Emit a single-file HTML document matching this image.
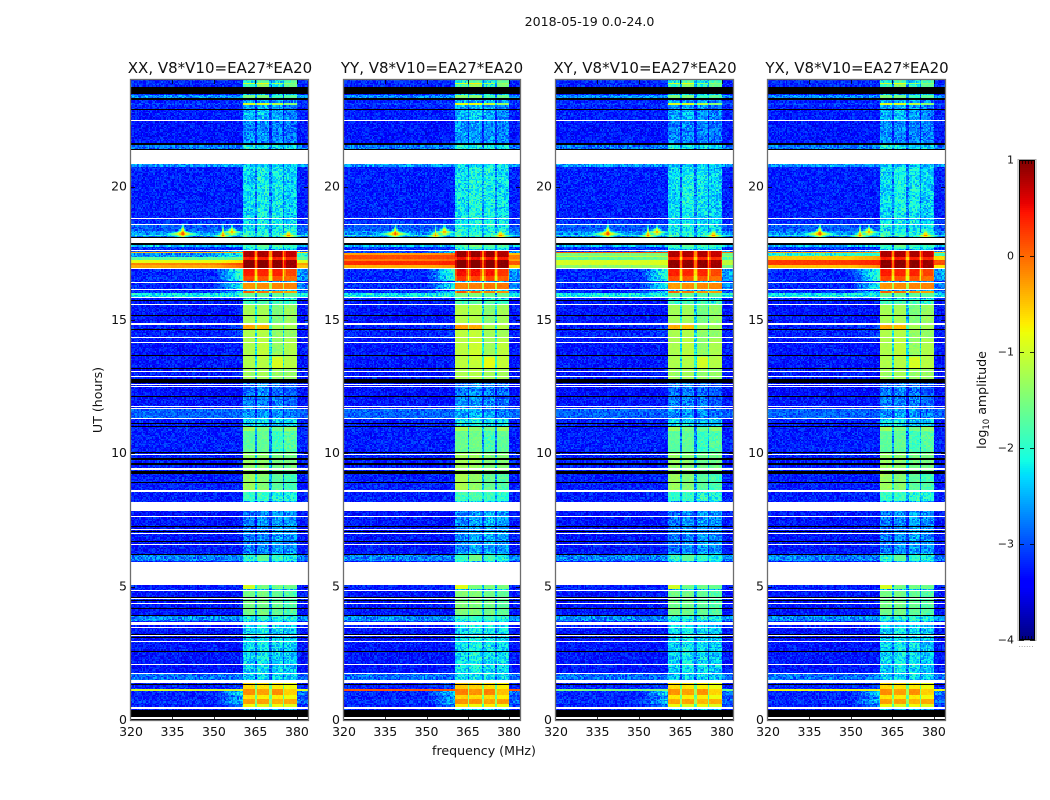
<!DOCTYPE html>
<html lang="en">
<head>
<meta charset="utf-8">
<title>2018-05-19 spectrogram</title>
<style>
html,body{margin:0;padding:0;background:#fff;width:1050px;height:800px;overflow:hidden}
svg{display:block}
text{font-family:"DejaVu Sans","Liberation Sans",sans-serif;fill:#111}
.tick{font-size:12.5px}
.title{font-size:15px}
</style>
</head>
<body>
<svg id="figure" width="1050" height="800" viewBox="0 0 1050 800" xmlns="http://www.w3.org/2000/svg">
  <text x="589.5" y="26" text-anchor="middle" font-size="12.6">2018-05-19 0.0-24.0</text>
  <text class="title" x="220" y="73" text-anchor="middle">XX, V8*V10=EA27*EA20</text>
  <text class="title" x="432" y="73" text-anchor="middle">YY, V8*V10=EA27*EA20</text>
  <text class="title" x="645" y="73" text-anchor="middle">XY, V8*V10=EA27*EA20</text>
  <text class="title" x="857" y="73" text-anchor="middle">YX, V8*V10=EA27*EA20</text>
  <text font-size="12.6" text-anchor="middle" transform="translate(102,400) rotate(-90)">UT (hours)</text>
  <text font-size="12.6" x="484" y="755" text-anchor="middle">frequency (MHz)</text>
  <text font-size="12.6" text-anchor="middle" transform="translate(986,400) rotate(-90)">log<tspan font-size="8.5" dy="3">10</tspan><tspan dy="-3"> amplitude</tspan></text>
  <text font-size="8" x="1026" y="647" text-anchor="middle" style="fill:#999">......</text>
  <g id="panels"></g>
  <g id="colorbar"></g>
</svg>
<script>
// ---------- chart data (UT hours, MHz, log10 amplitude) ----------
const panelNames = ['xx','yy','xy','yx'];
const freqTicks = [320,335,350,365,380];
const utTicks = [0,5,10,15,20];
const colorbarTicks = [1,0,-1,-2,-3,-4];
const colorbarLabels = ['1','0','\u22121','\u22122','\u22123','\u22124'];

// [utTop, utBottom, background, shoulder, blockA, blockB, blockC, blockD]
const commonBands = [
[24.00,23.92,-3.2,-3.2,-2.2,-1.8,-2.3,-1.8],
[23.92,23.84,-3.2,-3.2,-1.0,-0.8,-1.3,-1.4],
[23.84,23.73,-3.2,-3.2,-1.9,-1.4,-2.1,-1.6],
[23.47,23.31,-2.7,-2.7,-1.5,-1.5,-1.9,-1.7],
[23.25,22.88,-3.25,-3.25,-2.6,-2.55,-2.6,-2.75],
[23.13,23.07,-3.1,-3.1,-0.9,-0.9,-1.1,-1.4],
[22.88,22.50,-3.25,-3.25,-2.55,-2.45,-2.6,-2.75],
[22.50,21.62,-3.3,-3.3,-2.7,-2.7,-2.75,-2.8],
[21.56,21.38,-2.8,-2.8,-2.1,-2.2,-2.3,-2.3],
[20.85,20.74,-2.65,-2.65,-2.4,-2.4,-2.4,-2.4],
[20.74,18.81,-3.25,-3.25,-2.3,-2.15,-2.2,-2.35],
[18.77,18.60,-3.15,-3.15,-2.3,-2.15,-2.2,-2.35],
[18.56,18.34,-2.95,-2.95,-2.2,-2.2,-2.2,-2.25],
[18.34,18.22,-2.7,-2.7,-2.1,-2.1,-2.1,-2.15],
[18.22,18.14,-2.15,-2.15,-1.85,-1.85,-1.85,-1.9],
[18.14,18.06,-2.9,-2.9,-2.3,-2.3,-2.3,-2.3],
[17.83,17.76,-2.45,-2.45,-1.9,-1.6,-1.8,-1.9],
[17.76,17.64,-3.15,-3.15,-2.1,-1.9,-2.0,-2.2],
[17.61,17.33,-3.05,-2.3,0.82,0.82,0.82,0.72],
[17.33,17.25,-3.05,-2.1,0.4,0.4,0.4,0.35],
[17.25,16.95,-3.05,-1.9,0.95,0.95,0.95,0.88],
[16.91,16.66,-3.2,-1.9,0.42,0.38,0.38,0.2],
[16.66,16.43,-3.2,-1.9,0.2,0.12,0.12,-0.02],
[16.39,16.15,-3.2,-2.1,-0.25,-0.2,-0.15,-0.15],
[16.11,15.98,-3.15,-2.3,0.05,-0.05,-0.2,-0.3],
[15.98,15.86,-2.2,-2.2,-1.6,-1.6,-1.7,-1.7],
[15.81,15.55,-3.3,-3.3,-1.9,-1.8,-1.9,-2.0],
[15.55,14.87,-3.3,-3.3,-1.25,-1.25,-1.5,-1.35],
[14.83,14.63,-3.25,-3.05,-0.35,-0.45,-1.25,-1.25],
[14.63,14.31,-3.25,-3.05,-1.2,-1.15,-1.35,-1.35],
[14.31,13.62,-3.3,-3.3,-1.2,-1.1,-1.35,-1.2],
[13.62,13.20,-3.3,-3.3,-1.2,-1.15,-0.95,-1.15],
[13.20,12.77,-3.3,-3.3,-1.3,-1.25,-1.35,-1.35],
[12.65,12.15,-3.35,-3.35,-2.85,-2.75,-2.85,-2.95],
[12.11,11.66,-3.3,-3.3,-2.8,-2.75,-2.75,-2.9],
[11.66,11.29,-2.9,-2.9,-2.65,-2.6,-2.65,-2.8],
[11.29,11.0,-3.25,-3.25,-2.3,-2.3,-2.4,-2.4],
[11.0,10.85,-3.25,-3.25,-1.3,-1.5,-1.6,-1.4],
[10.85,10.05,-3.25,-3.25,-1.7,-1.65,-1.9,-1.75],
[10.05,9.23,-3.25,-3.25,-1.35,-1.4,-1.55,-1.55],
[9.23,8.59,-3.25,-3.25,-1.3,-1.45,-1.7,-1.85],
[8.56,8.19,-3.25,-3.25,-1.95,-1.9,-2.0,-2.05],
[7.84,6.23,-3.3,-3.3,-2.8,-2.7,-2.6,-2.7],
[6.18,5.94,-2.75,-2.75,-2.0,-1.65,-1.95,-2.15],
[5.06,4.88,-3.25,-3.25,-0.95,-1.55,-1.55,-1.6],
[4.84,3.90,-3.3,-3.3,-1.55,-1.55,-1.65,-1.75],
[3.90,3.69,-2.7,-2.7,-2.1,-2.05,-2.05,-2.15],
[3.56,1.77,-3.3,-3.3,-2.35,-2.2,-2.3,-2.4],
[1.74,1.50,-2.85,-2.85,-2.4,-2.3,-2.3,-2.4],
[1.38,1.13,-3.25,-3.05,-0.6,-0.65,-0.7,-0.8],
[1.13,0.95,-3.2,-2.3,-0.2,-0.3,-0.2,-0.55],
[0.95,0.80,-3.25,-2.6,-0.65,-0.7,-0.7,-0.8],
[0.80,0.62,-3.15,-2.4,-0.3,-0.3,-0.4,-0.35],
[0.62,0.43,-3.25,-2.8,-0.8,-0.9,-0.8,-0.9]
];

// [utTop, utBottom, background, shoulder, rightEdge] replacing the out-of-band levels per panel
const stripsXX = [
[17.55,17.48,-0.4,-0.4,-0.6],[17.48,17.33,-2.7,-2.2,-2.0],[17.33,17.25,-1.7,-1.6,-1.7],
[17.25,17.17,-0.85,-0.6,-0.9],[17.17,17.05,-0.15,0.2,-0.3],[17.05,16.95,-0.35,0.0,-0.5],
[1.14,1.09,-0.95,-0.95,-0.95]
];
const stripsYY = [
[17.51,17.44,-0.3,-0.1,-0.5],[17.44,17.29,0.15,0.2,-0.1],[17.29,17.21,-0.1,0.0,-0.3],
[17.21,17.03,0.32,0.4,0.1],[17.03,16.95,-0.4,-0.2,-0.6],
[1.14,1.09,0.1,0.1,0.1]
];
const stripsXY = [
[17.55,17.50,0.1,0.1,-0.1],[17.50,17.40,-1.5,-1.5,-1.6],[17.40,17.33,-1.1,-1.1,-1.3],
[17.33,17.25,-1.7,-1.6,-1.8],[17.25,17.06,-0.95,-0.9,-1.1],[17.06,16.95,-1.4,-1.2,-1.5],
[1.14,1.09,-1.5,-1.5,-1.6]
];
const stripsYX = [
[17.55,17.48,-0.3,-0.3,-0.5],[17.48,17.40,-2.0,-1.9,-1.9],[17.40,17.25,-0.5,-0.3,-0.6],
[17.25,17.03,0.25,0.4,0.15],[17.03,16.95,-0.5,-0.2,-0.7],
[1.14,1.09,-0.8,-0.8,-0.8]
];
const panelStrips = [stripsXX,stripsYY,stripsXY,stripsYX];
// in-band brightness difference of each polarisation
const panelBandShift = [0,0.08,-0.02,0.0];

// narrow interference spikes near 18 UT
const spurFreqs = [338.6,356.5,353.3,377.0,361.5,368.5];
const spurTimes = [18.24,18.30,18.17,18.17,18.16,18.16];
const spurPeaks = [0.6,0.3,0.1,0.3,-0.9,-1.1];

// flagged integrations: [utTop, utBottom]
const whiteRows = [
[22.5,22.46],[21.375,20.85],[18.81,18.77],[18.6,18.56],[18.06,17.87],[17.64,17.61],[16.95,16.91],
[16.425,16.39],[16.15,16.11],[15.86,15.81],[15.59,15.55],[14.87,14.83],[14.37,14.31],[14.19,14.16],
[13.09,13.05],[12.9,12.85],[12.6,12.56],[12.54,12.51],[11.775,11.74],[11.7,11.66],[11.325,11.29],
[9.99,9.95],[9.45,9.375],[8.61,8.56],[8.19,7.84],[7.65,7.6],[7.16,7.125],[7.03,7.0],[6.6,6.56],
[5.94,5.06],[4.875,4.84],[4.575,4.54],[4.39,4.35],[3.69,3.56],[3.47,3.44],[3.19,3.15],[2.96,2.925],
[2.1,2.06],[1.77,1.74],[1.5,1.375],[0.47,0.43],[0.13,0.09],[0.065,0.035]
];
const blackRows = [
[23.73,23.47],[23.31,23.25],[22.91,22.875],[21.62,21.56],[21.41,21.375],[18.11,18.06],[17.87,17.83],
[15.75,15.71],[15.19,15.15],[14.66,14.625],[13.69,13.65],[13.2,13.16],[12.77,12.65],[12.15,12.11],
[11.14,11.1],[11.04,11.0],[10.05,10.01],[9.81,9.75],[9.65,9.56],[9.35,9.225],[8.925,8.89],[7.275,7.24],
[7.09,7.05],[6.73,6.69],[6.225,6.18],[4.61,4.575],[4.5,4.46],[4.2,4.16],[3.94,3.9],[3.24,3.21],
[3.11,3.08],[2.59,2.55],[1.35,1.31],[0.39,0.13],[0.09,0.065],[0.035,0]
];

// fine cell-to-cell scatter
const speckle = [
0.31,-0.62,0.08,0.77,-0.24,-0.91,0.45,0.12,-0.38,0.66,-0.07,-0.54,0.93,0.21,-0.73,0.02,0.38,-0.16,-0.84,0.59,
0.15,-0.33,0.71,-0.49,0.27,-0.05,-0.68,0.52,0.86,-0.21,-0.97,0.34,0.04,-0.42,0.63,-0.12,0.19,-0.77,0.48,1.0,
-0.29,-0.58,0.11,0.74,-0.36,0.25,-0.88,0.56,-0.02,0.41,-0.65,0.17,0.82,-0.19,-0.45,0.36,-0.8,0.06,0.69,-0.31,
0.22,-0.55,0.5,-0.1,0.9,-0.71,0.29,-0.26,-0.94,0.61,0.09,-0.4,0.78,-0.14,0.33,-0.6,0.44,-0.03,-0.83,0.55,
0.18,-0.5,0.84,-0.23,0.01,-0.75,0.39,0.67,-0.34,-0.09,0.47,-0.99,0.26,0.72,-0.44,0.14,-0.17
];

// ---------- geometry and scales ----------
const NS = 'http://www.w3.org/2000/svg';
const panelLeft = [131,344,556,768];
const panelRight = [308,520,733,945];
const plotTop = 80, plotBottom = 720;
const freqMin = 320, freqMax = 384, utMin = 0, utMax = 24;
const blockEdges = [[360.4,365.1],[365.7,370.2],[370.9,374.9],[375.6,379.9]];
const yScale = t => plotBottom - (t - utMin) / (utMax - utMin) * (plotBottom - plotTop);
const xScaleFor = p => f => panelLeft[p] + (f - freqMin) / (freqMax - freqMin) * (panelRight[p] - panelLeft[p]);

function jet(v) {
  const stopsR = [[0,0],[0.35,0],[0.66,1],[0.89,1],[1,0.5]];
  const stopsG = [[0,0],[0.125,0],[0.375,1],[0.64,1],[0.91,0],[1,0]];
  const stopsB = [[0,0.5],[0.11,1],[0.34,1],[0.65,0],[1,0]];
  const ev = s => { for (let i = 1; i < s.length; i++) if (v <= s[i][0]) return s[i-1][1] + (s[i][1]-s[i-1][1])*(v-s[i-1][0])/(s[i][0]-s[i-1][0]); return s[s.length-1][1]; };
  return 'rgb(' + Math.round(255*ev(stopsR)) + ',' + Math.round(255*ev(stopsG)) + ',' + Math.round(255*ev(stopsB)) + ')';
}
const LEVELS = 96;
const levelIndex = L => Math.max(0, Math.min(LEVELS - 1, Math.floor((L + 4) / 5 * LEVELS)));

function bandAt(p, t) {
  let found = null;
  for (const b of commonBands) if (t <= b[0] && t > b[1]) found = b;
  if (!found) found = [0,0,-3.25,-3.25,-2.5,-2.5,-2.5,-2.5];
  const r = {bg: found[2], sh: found[3], blocks: found.slice(4,8).map(v => v + panelBandShift[p]), right: null};
  for (const s of panelStrips[p]) if (t <= s[0] && t > s[1]) { r.bg = s[2]; r.sh = s[3]; r.right = s[4]; }
  if (r.right === null) r.right = r.sh > r.bg ? (r.sh + r.bg) / 2 - 0.1 : r.bg;
  return r;
}
function levelAt(r, f) {
  for (let k = 0; k < 4; k++) {
    if (f >= blockEdges[k][0] && f < blockEdges[k][1]) {
      const edge = Math.min(f - blockEdges[k][0], blockEdges[k][1] - f);
      return r.blocks[k] - (r.blocks[k] > 0.0 && edge < 0.55 ? 0.35 : 0);
    }
  }
  for (let k = 0; k < 3; k++) {
    if (f >= blockEdges[k][1] && f < blockEdges[k+1][0]) {
      const avg = (r.blocks[k] + r.blocks[k+1]) / 2;
      return avg < -1.8 ? avg - 0.55 : avg - 1.0;
    }
  }
  if (f >= blockEdges[3][1]) return r.right;
  if (f >= 350) return r.bg + (r.sh - r.bg) * (f - 350) / 10.4;
  return r.bg;
}
function spurLevel(f, t, L) {
  for (let k = 0; k < spurFreqs.length; k++) {
    const h = t - spurTimes[k];
    if (h > 0.5 || h < -0.15) continue;
    const df = Math.pow(Math.abs(f - spurFreqs[k]), 0.6);
    const v = h >= 0 ? spurPeaks[k] - df * (1 + 10 * h) - 5 * h : spurPeaks[k] - df - 12 * (-h);
    if (v > L) L = v;
  }
  return L;
}
function scatterAmp(L) { return L > -1.3 ? 0.05 : (L > -1.75 ? 0.14 : (L > -2.0 ? 0.26 : (L > -2.9 ? 0.44 : 0.33))); }
function cellHash(i, j, p) {
  let h = Math.imul(i + 1, 73856093) ^ Math.imul(j + 1, 19349663) ^ Math.imul(p + 1, 83492791);
  h ^= h >>> 13;
  h = Math.imul(h, 1274126177);
  h ^= h >>> 16;
  return (h >>> 0) % speckle.length;
}

// ---------- draw ----------
const panelsGroup = document.getElementById('panels');
const nCols = 128, nRows = 480;
panelNames.forEach((name, p) => {
  const xScale = xScaleFor(p);
  const g = document.createElementNS(NS, 'g');
  
  
  panelsGroup.appendChild(g);

  const buckets = Array.from({length: LEVELS}, () => []);
  const dF = (freqMax - freqMin) / nCols, dT = (utMax - utMin) / nRows;
  for (let i = 0; i < nRows; i++) {
    const tTop = utMax - i * dT, tBot = tTop - dT, tMid = tTop - dT / 2;
    const y0 = Math.round(yScale(tTop)), y1 = Math.round(yScale(tBot));
    if (y1 <= y0) continue;
    const band = bandAt(p, tMid);
    for (let j = 0; j < nCols; j++) {
      const f0 = freqMin + j * dF, fMid = f0 + dF / 2;
      const x0 = Math.round(xScale(f0)), x1 = Math.round(xScale(f0 + dF));
      if (x1 <= x0) continue;
      let L = levelAt(band, fMid);
      L += speckle[cellHash(i, j, p)] * scatterAmp(L);
      L = spurLevel(fMid, tMid, L);
      buckets[levelIndex(L)].push('M' + x0 + ' ' + y0 + 'h' + (x1 - x0) + 'v' + (y1 - y0) + 'h' + (x0 - x1) + 'z');
    }
  }
  buckets.forEach((cells, lv) => {
    if (!cells.length) return;
    const path = document.createElementNS(NS, 'path');
    path.setAttribute('d', cells.join(''));
    path.setAttribute('fill', jet((lv + 0.5) / LEVELS));
    path.setAttribute('shape-rendering', 'crispEdges');
    
    
    g.appendChild(path);
  });

  const addMask = (row, color, label) => {
    const y0 = Math.round(yScale(row[0]));
    const y1 = Math.max(y0 + 1, Math.round(yScale(row[1])));
    const r = document.createElementNS(NS, 'rect');
    r.setAttribute('x', panelLeft[p]);
    r.setAttribute('y', y0);
    r.setAttribute('width', panelRight[p] - panelLeft[p]);
    r.setAttribute('height', y1 - y0);
    r.setAttribute('fill', color);
    r.setAttribute('shape-rendering', 'crispEdges');
    
    
    g.appendChild(r);
  };
  blackRows.forEach(row => addMask(row, '#000', name + '-zero-row'));
  whiteRows.forEach(row => addMask(row, '#fff', name + '-flagged-row'));

  const frame = document.createElementNS(NS, 'rect');
  frame.setAttribute('x', panelLeft[p] - 0.5);
  frame.setAttribute('y', plotTop - 0.5);
  frame.setAttribute('width', panelRight[p] - panelLeft[p] + 1);
  frame.setAttribute('height', plotBottom - plotTop + 1);
  frame.setAttribute('fill', 'none');
  frame.setAttribute('stroke', '#6e6e6e');
  frame.setAttribute('stroke-width', '1.3');
  
  
  g.appendChild(frame);

  const tickLine = (x1, y1, x2, y2, label) => {
    const l = document.createElementNS(NS, 'line');
    l.setAttribute('x1', x1);
    l.setAttribute('y1', y1);
    l.setAttribute('x2', x2);
    l.setAttribute('y2', y2);
    l.setAttribute('stroke', '#000');
    l.setAttribute('stroke-width', '0.8');
    
    
    g.appendChild(l);
  };
  freqTicks.forEach(ft => {
    const x = Math.round(xScale(ft)) + 0.5;
    if (ft !== 320) {
      tickLine(x, plotBottom, x, plotBottom - 4, name + '-x-tick');
      tickLine(x, plotTop, x, plotTop + 4, name + '-x-tick-top');
    }
    const t = document.createElementNS(NS, 'text');
    t.setAttribute('x', xScale(ft));
    t.setAttribute('y', 736);
    t.setAttribute('text-anchor', 'middle');
    t.setAttribute('class', 'tick');
    
    
    t.textContent = String(ft);
    g.appendChild(t);
  });
  utTicks.forEach(ut => {
    const y = Math.round(yScale(ut)) + 0.5;
    if (ut !== 0) {
      tickLine(panelLeft[p], y, panelLeft[p] + 4, y, name + '-y-tick');
      tickLine(panelRight[p], y, panelRight[p] - 4, y, name + '-y-tick-right');
    }
    const t = document.createElementNS(NS, 'text');
    t.setAttribute('x', panelLeft[p] - 4);
    t.setAttribute('y', yScale(ut) + 3.8);
    t.setAttribute('text-anchor', 'end');
    t.setAttribute('class', 'tick');
    
    
    t.textContent = String(ut);
    g.appendChild(t);
  });
});

// ---------- colorbar ----------
const cb = document.getElementById('colorbar');
const cbL = 1019, cbR = 1035, cbT = 160, cbB = 640, cbMin = -4, cbMax = 1;
const cbY = v => cbB - (v - cbMin) / (cbMax - cbMin) * (cbB - cbT);
for (let y = cbT; y < cbB; y += 2) {
  const v = cbMax - (y + 1 - cbT) / (cbB - cbT) * (cbMax - cbMin);
  const r = document.createElementNS(NS, 'rect');
  r.setAttribute('x', cbL);
  r.setAttribute('y', y);
  r.setAttribute('width', cbR - cbL);
  r.setAttribute('height', 2);
  r.setAttribute('fill', jet((v - cbMin) / (cbMax - cbMin)));
  r.setAttribute('shape-rendering', 'crispEdges');
  
  
  cb.appendChild(r);
}
const cbOuter = document.createElementNS(NS, 'rect');
cbOuter.setAttribute('x', cbL - 1);
cbOuter.setAttribute('y', cbT - 0.5);
cbOuter.setAttribute('width', cbR - cbL + 2);
cbOuter.setAttribute('height', cbB - cbT + 1);
cbOuter.setAttribute('fill', 'none');
cbOuter.setAttribute('stroke', '#aaa');
cbOuter.setAttribute('stroke-width', '1');


cb.appendChild(cbOuter);
const cbInner = document.createElementNS(NS, 'rect');
cbInner.setAttribute('x', cbL + 0.5);
cbInner.setAttribute('y', cbT + 0.5);
cbInner.setAttribute('width', cbR - cbL - 1);
cbInner.setAttribute('height', cbB - cbT - 1);
cbInner.setAttribute('fill', 'none');
cbInner.setAttribute('stroke', '#000');
cbInner.setAttribute('stroke-width', '1');


cb.appendChild(cbInner);
colorbarTicks.forEach((v, k) => {
  const y = Math.round(cbY(v)) + 0.5;
  [[cbL, cbL + 5], [cbR - 5, cbR]].forEach(pair => {
    const l = document.createElementNS(NS, 'line');
    l.setAttribute('x1', pair[0]);
    l.setAttribute('x2', pair[1]);
    l.setAttribute('y1', y);
    l.setAttribute('y2', y);
    l.setAttribute('stroke', '#000');
    l.setAttribute('stroke-width', '0.8');
    
    
    cb.appendChild(l);
  });
  const t = document.createElementNS(NS, 'text');
  t.setAttribute('x', cbL - 5);
  t.setAttribute('y', cbY(v) + 3.5);
  t.setAttribute('text-anchor', 'end');
  t.setAttribute('font-size', '11');
  
  
  t.textContent = colorbarLabels[k];
  cb.appendChild(t);
});
[cbT, cbB - 4].forEach(y0 => {
  for (let x = cbL + 3; x < cbR - 1; x += 3) {
    const l = document.createElementNS(NS, 'line');
    l.setAttribute('x1', x + 0.5);
    l.setAttribute('x2', x + 0.5);
    l.setAttribute('y1', y0);
    l.setAttribute('y2', y0 + 4);
    l.setAttribute('stroke', '#000');
    l.setAttribute('stroke-width', '0.7');
    
    
    cb.appendChild(l);
  }
});
</script>
</body>
</html>
